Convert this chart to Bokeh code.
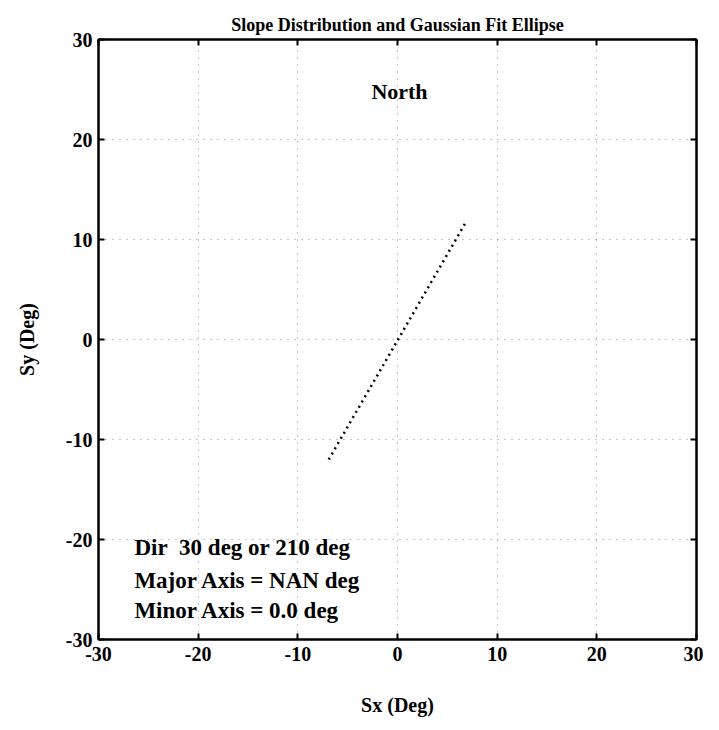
from bokeh.plotting import figure
from bokeh.models import LinearAxis, Range1d, FixedTicker, ColumnDataSource
from bokeh.core.properties import value
from bokeh.embed import file_html
from bokeh.resources import INLINE

# ---- data ----
ticks = [-30, -20, -10, 0, 10, 20, 30]
tick_labels = {t: str(t) for t in ticks}
line_x = [-6.9, 6.9]
line_y = [-12.0, 11.8]
label_text = ["North"]
label_x = [0.2]
label_y = [24.8]
ann_text = ["Dir\u00a0 30 deg or 210 deg", "Major Axis = NAN deg", "Minor Axis = 0.0 deg"]
ann_x = [-26.4, -26.4, -26.4]
ann_y = [-20.8, -24.1, -27.1]

FONT = "Liberation Serif"

p = figure(frame_width=598, frame_height=600, output_backend="svg", toolbar_location=None,
           x_range=Range1d(-30, 30), y_range=Range1d(-30, 30),
           title="Slope Distribution and Gaussian Fit Ellipse",
           min_border_left=98, min_border_right=7, min_border_top=39, min_border_bottom=75)

p.title.align = "center"
p.title.text_font = FONT
p.title.text_font_style = "bold"
p.title.text_font_size = "18px"
p.title.text_color = "black"

p.outline_line_color = "black"
p.outline_line_width = 2

def style_axis(ax):
    ax.ticker = FixedTicker(ticks=ticks)
    ax.major_label_overrides = tick_labels
    ax.major_tick_in = 6
    ax.major_tick_out = 0
    ax.minor_tick_in = 0
    ax.minor_tick_out = 0
    ax.axis_line_width = 2
    ax.axis_line_color = "black"
    ax.major_tick_line_width = 2
    ax.major_tick_line_color = "black"
    ax.major_label_text_font = FONT
    ax.major_label_text_font_style = "bold"
    ax.major_label_text_font_size = "20px"
    ax.major_label_text_color = "black"
    ax.axis_label_text_font = FONT
    ax.axis_label_text_font_style = "bold"
    ax.axis_label_text_font_size = "20px"
    ax.axis_label_text_color = "black"

for ax in p.xaxis:
    style_axis(ax)
    ax.axis_label = "Sx (Deg)"
    ax.major_label_standoff = 7
    ax.axis_label_standoff = 30
for ax in p.yaxis:
    style_axis(ax)
    ax.axis_label = "Sy (Deg)"
    ax.major_label_orientation = "horizontal"
    ax.major_label_standoff = 6
    ax.axis_label_standoff = 25

# tick-only axes on top and right (MATLAB box style)
for side in ("above", "right"):
    ax = LinearAxis()
    style_axis(ax)
    ax.major_label_text_color = None
    ax.major_label_text_font_size = "1px"
    ax.major_label_standoff = 0
    p.add_layout(ax, side)

for g in (p.xgrid[0], p.ygrid[0]):
    g.ticker = FixedTicker(ticks=ticks)
    g.grid_line_color = "black"
    g.grid_line_alpha = 0.45
    g.grid_line_dash = "1 6"
    g.grid_line_width = 1

p.line(line_x, line_y, line_color="black", line_width=2.5, line_dash="2 4")

p.text(x=label_x, y=label_y, text=label_text, text_font=value(FONT), text_font_style="bold",
       text_font_size="22px", text_align="center", text_baseline="middle", text_color="black")

src = ColumnDataSource(dict(x=ann_x, y=ann_y, t=ann_text))
p.text(x="x", y="y", text="t", source=src, text_font=value(FONT), text_font_style="bold",
       text_font_size="23px", text_align="left", text_baseline="middle", text_color="black")

open("out.html", "w").write(file_html(p, INLINE))
